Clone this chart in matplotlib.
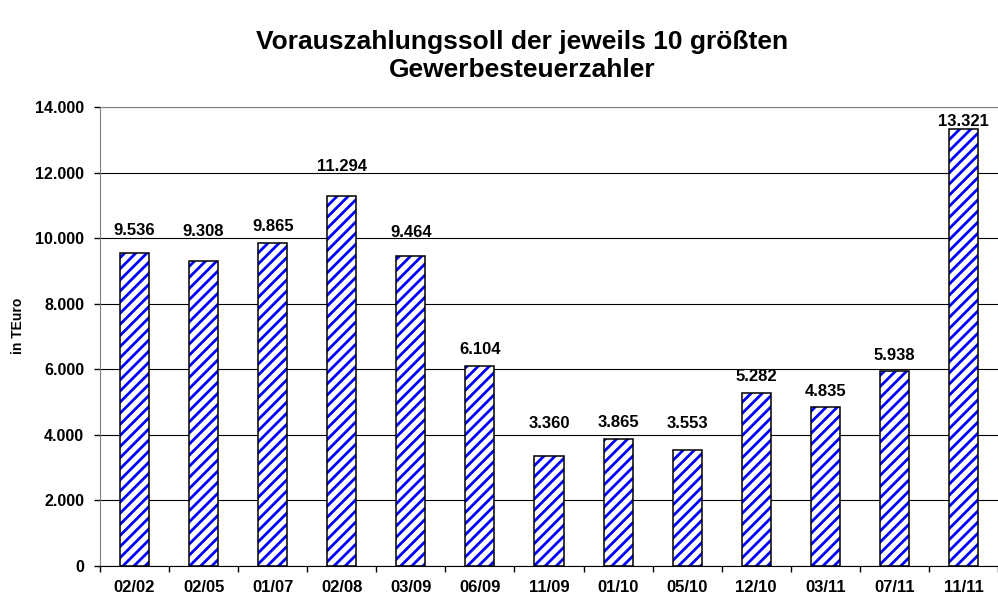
import matplotlib.pyplot as plt
from matplotlib.ticker import FuncFormatter

plt.rcParams['font.family'] = ['Liberation Sans', 'DejaVu Sans']
plt.rcParams['hatch.linewidth'] = 2.0

# Stichtage und Vorauszahlungssoll in TEuro
stichtage = ['02/02', '02/05', '01/07', '02/08', '03/09', '06/09', '11/09',
             '01/10', '05/10', '12/10', '03/11', '07/11', '11/11']
soll = [9536, 9308, 9865, 11294, 9464, 6104, 3360, 3865, 3553, 5282, 4835, 5938, 13321]
# gap between bar top and value label in pixels (labels were shifted by hand in the original)
label_gap = [18, 25, 12, 25, 19, 12, 28, 12, 22, 12, 11, 11, 3]


def tausender(v):
    return f'{int(v):,}'.replace(',', '.')


fig = plt.figure(figsize=(9.98, 6.02), dpi=100)
ax = fig.add_axes([0.1002, 0.0598, 0.8998, 0.7625])

x = list(range(len(soll)))
# striped fill first, black outline on top
ax.bar(x, soll, width=0.42, color='white', edgecolor='#0000ff', hatch='///', linewidth=0, zorder=2)
ax.bar(x, soll, width=0.42, fill=False, edgecolor='black', linewidth=1.1, zorder=3)

for i, v in enumerate(soll):
    ax.annotate(tausender(v), (i, v), xytext=(0, label_gap[i]), textcoords='offset pixels',
                ha='center', va='baseline', fontsize=12, fontweight='bold')

ax.set_xlim(-0.5, len(soll) - 0.5)
ax.set_ylim(0, 14000)
ax.set_yticks(range(0, 14001, 2000))
ax.yaxis.set_major_formatter(FuncFormatter(lambda v, p: tausender(v)))
ax.yaxis.grid(True, color='black', linewidth=0.8)
ax.set_axisbelow(True)

ax.set_xticks(x)
ax.set_xticklabels(stichtage)
ax.set_xticks([i - 0.5 for i in range(len(soll) + 1)], minor=True)
ax.tick_params(axis='x', which='major', length=0, pad=10)
ax.tick_params(axis='x', which='minor', length=4, width=1)
ax.tick_params(axis='y', length=4, width=1, pad=7.5)
for lbl in ax.get_xticklabels():
    lbl.set_fontsize(12)
    lbl.set_fontweight('bold')
for lbl in ax.get_yticklabels():
    lbl.set_fontsize(11.5)
    lbl.set_fontweight('bold')

ax.spines['right'].set_visible(False)
ax.spines['top'].set_color('#808080')
ax.spines['left'].set_color('#808080')
ax.spines['bottom'].set_color('black')

ax.set_ylabel('in TEuro', fontsize=10, fontweight='bold')
ax.yaxis.set_label_coords(-0.083, 0.523)

fig.text(0.523, 1 - 56 / 602, 'Vorauszahlungssoll der jeweils 10 größten\nGewerbesteuerzahler',
         ha='center', va='center', fontsize=19, fontweight='bold', linespacing=1.2)

fig.savefig('out.png', dpi=100)
